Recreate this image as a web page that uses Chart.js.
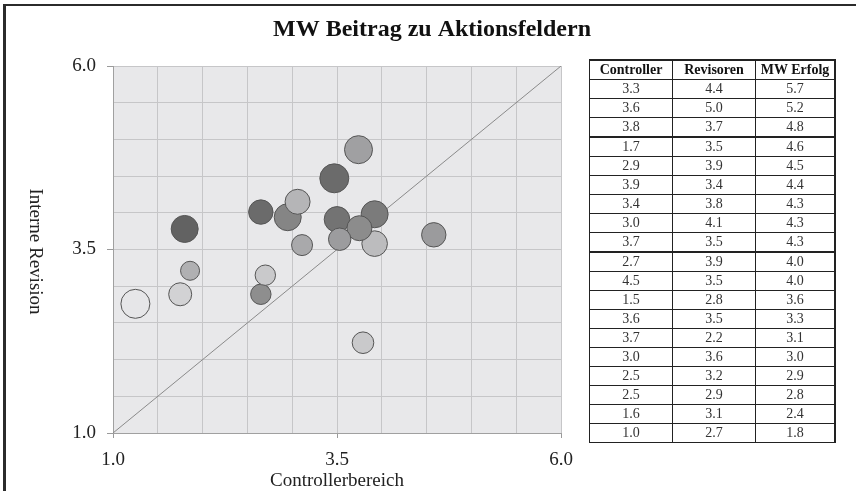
<!DOCTYPE html>
<html>
<head>
<meta charset="utf-8">
<script src="https://cdn.jsdelivr.net/npm/chart.js@4.4.0/dist/chart.umd.min.js"></script>
<style>
  html, body { margin: 0; padding: 0; background: #fff; overflow: hidden; }
  #wrap { position: relative; width: 856px; height: 491px; overflow: hidden; }
  #chart { position: absolute; left: 0; top: 0; }
  #frame { position: absolute; left: 3px; top: 4px; width: 900px; height: 600px;
           border-left: 3px solid #2b2b2b; border-top: 2px solid #2b2b2b; pointer-events: none; }
  #tbl { position: absolute; left: 589px; top: 59px; border-collapse: collapse; table-layout: fixed;
         width: 242px; font-family: "Liberation Serif", "Times New Roman", serif; font-size: 14px; color: #333; }
  #tbl th, #tbl td { border: 1px solid #222; height: 18px; line-height: 18px; padding: 0; text-align: center; }
  #tbl th { font-weight: bold; color: #111; border-top-width: 2px; }
  #tbl td:last-child, #tbl th:last-child { border-right-width: 2px; }
  #tbl tr.thick td { border-bottom-width: 2px; }
</style>
</head>
<body>
<div id="wrap">
  <canvas id="chart" width="856" height="491"></canvas>
  <table id="tbl"><thead></thead><tbody></tbody></table>
  <div id="frame"></div>
</div>
<script>
// chart texts
const chartTitle = 'MW Beitrag zu Aktionsfeldern';
const xTitle = 'Controllerbereich';
const yTitle = 'Interne Revision';

// axis ticks (grid every 0.5, labels only here)
const tickValues = [1.0, 3.5, 6.0];
const tickLabels = ['1.0', '3.5', '6.0'];

// bubbles (back to front)
const bubbleX = [1.25, 1.80, 3.47, 3.74, 2.65, 2.95, 3.06, 3.92, 3.50, 3.92, 3.75, 3.53, 4.58, 3.11, 2.65, 2.70, 1.86, 1.75, 3.79];
const bubbleY = [2.76, 3.78, 4.47, 4.86, 4.01, 3.94, 4.15, 3.98, 3.91, 3.58, 3.79, 3.64, 3.70, 3.56, 2.89, 3.15, 3.21, 2.89, 2.23];
const bubbleSize = [14.5, 13.5, 14.5, 14, 12.2, 13.5, 12.5, 13.5, 12.8, 12.8, 12.5, 11.2, 12.2, 10.5, 10.2, 10.2, 9.5, 11.5, 10.8];

// fill per bubble
const bubbleFill = ['#e6e6e8', '#626262', '#6b6b6b', '#a0a0a2', '#6b6b6b', '#858585', '#b5b5b7', '#7b7b7b', '#737373', '#bcbcbe',
                    '#8c8c8c', '#9c9c9e', '#9b9b9d', '#a9a9ab', '#8e8e8e', '#c9c9cb', '#b0b0b2', '#d2d2d4', '#c9c9cb'];

// diagonal reference line
const diagX = [1, 6];
const diagY = [1, 6];

// side table
const tableHead = ['Controller', 'Revisoren', 'MW Erfolg'];
const tableController = [3.3, 3.6, 3.8, 1.7, 2.9, 3.9, 3.4, 3.0, 3.7, 2.7, 4.5, 1.5, 3.6, 3.7, 3.0, 2.5, 2.5, 1.6, 1.0];
const tableRevisoren = [4.4, 5.0, 3.7, 3.5, 3.9, 3.4, 3.8, 4.1, 3.5, 3.9, 3.5, 2.8, 3.5, 2.2, 3.6, 3.2, 2.9, 3.1, 2.7];
const tableErfolg = [5.7, 5.2, 4.8, 4.6, 4.5, 4.4, 4.3, 4.3, 4.3, 4.0, 4.0, 3.6, 3.3, 3.1, 3.0, 2.9, 2.8, 2.4, 1.8];

// build the table
const thead = document.querySelector('#tbl thead');
const tbody = document.querySelector('#tbl tbody');
thead.innerHTML = '<tr>' + tableHead.map((h, i) =>
  `<th style="width:${i === 2 ? 78 : 82}px">${h}</th>`).join('') + '</tr>';
tbody.innerHTML = tableController.map((c, i) =>
  `<tr${i === 2 || i === 8 ? ' class="thick"' : ''}><td>${c.toFixed(1)}</td><td>${tableRevisoren[i].toFixed(1)}</td><td>${tableErfolg[i].toFixed(1)}</td></tr>`
).join('');

const serif = '"Liberation Serif", "Times New Roman", serif';

const plotDecor = {
  id: 'plotDecor',
  beforeDraw(chart) {
    const { ctx, chartArea: a } = chart;
    ctx.save();
    ctx.fillStyle = '#e8e8ea';
    ctx.fillRect(a.left, a.top, a.right - a.left, a.bottom - a.top);
    ctx.restore();
  },
  afterDraw(chart) {
    const { ctx, chartArea: a } = chart;
    ctx.save();
    ctx.fillStyle = '#111';
    ctx.textAlign = 'center';
    ctx.textBaseline = 'middle';
    ctx.font = 'bold 24px ' + serif;
    ctx.fillText(chartTitle, 432, 30);
    ctx.fillStyle = '#222';
    ctx.font = '19px ' + serif;
    ctx.translate(35, (a.top + a.bottom) / 2 + 2);
    ctx.rotate(Math.PI / 2);
    ctx.fillText(yTitle, 0, 0);
    ctx.restore();
  }
};

function tickText(v) {
  const i = tickValues.indexOf(v);
  return i >= 0 ? tickLabels[i] : '';
}

function tickMark(c) {
  return c.tick && tickValues.includes(c.tick.value) ? '#9a9a9a' : 'rgba(0,0,0,0)';
}

const ctx = document.getElementById('chart').getContext('2d');
const chart = new Chart(ctx, {
  type: 'bubble',
  data: {
    datasets: [{
      data: bubbleX.map((x, i) => ({ x: x, y: bubbleY[i], r: bubbleSize[i] })),
      backgroundColor: bubbleFill,
      borderColor: '#555',
      borderWidth: 1
    }, {
      type: 'line',
      data: diagX.map((x, i) => ({ x: x, y: diagY[i] })),
      borderColor: '#8a8a8a',
      borderWidth: 1,
      pointRadius: 0,
      fill: false
    }]
  },
  options: {
    responsive: false,
    animation: false,
    devicePixelRatio: 1,
    events: [],
    layout: {
      autoPadding: false,
      padding: { top: 66, right: 295, bottom: 0, left: 0 }
    },
    plugins: {
      legend: { display: false },
      tooltip: { enabled: false },
      title: { display: false }
    },
    scales: {
      x: {
        type: 'linear',
        min: 1,
        max: 6,
        afterFit: s => { s.height = 58; },
        ticks: {
          stepSize: 0.5,
          autoSkip: false,
          maxRotation: 0,
          padding: 11,
          color: '#222',
          font: { family: serif, size: 19 },
          callback: tickText
        },
        grid: { color: '#c6c6c8', tickLength: 5, tickColor: tickMark },
        border: { color: '#a0a0a0' },
        title: {
          display: true,
          text: xTitle,
          color: '#222',
          font: { family: serif, size: 19, lineHeight: 1 },
          padding: { top: 0, bottom: 0 }
        }
      },
      y: {
        type: 'linear',
        min: 1,
        max: 6,
        afterFit: s => { s.width = 113; },
        ticks: {
          stepSize: 0.5,
          autoSkip: false,
          padding: 11,
          color: '#222',
          font: { family: serif, size: 19 },
          callback: tickText
        },
        grid: { color: '#c6c6c8', tickLength: 6, tickColor: tickMark },
        border: { color: '#a0a0a0' }
      }
    }
  },
  plugins: [plotDecor]
});
</script>
</body>
</html>
